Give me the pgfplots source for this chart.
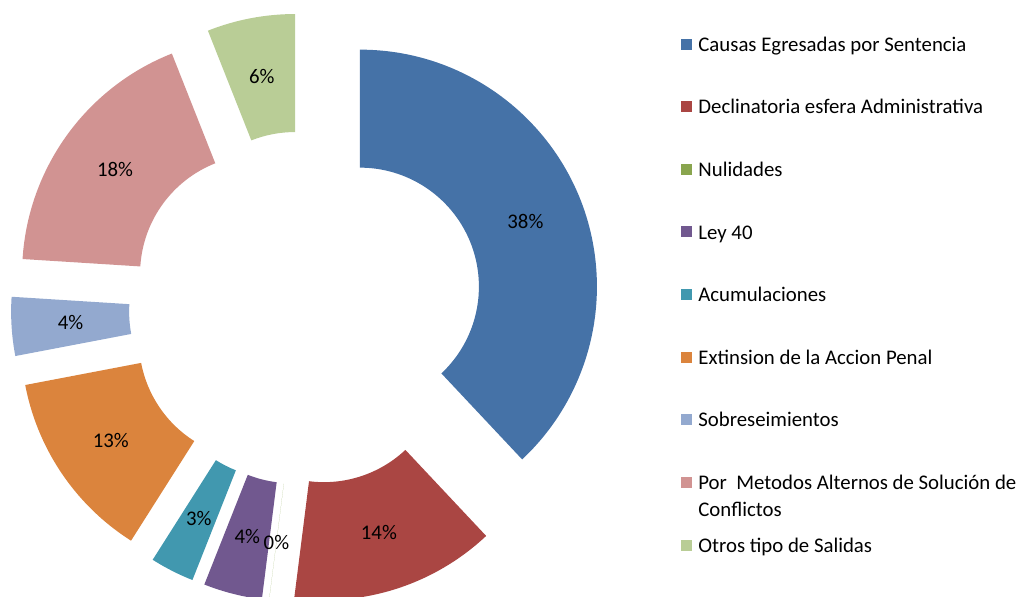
\documentclass[border=0pt]{standalone}
\usepackage{pgfplots}
\pgfplotsset{compat=1.18}
\usepackage{pgfplotstable}
\usepackage{fontspec}
\setmainfont{Carlito}
\definecolor{cA}{HTML}{4572A7}
\definecolor{cB}{HTML}{AA4643}
\definecolor{cC}{HTML}{89A54E}
\definecolor{cD}{HTML}{71588F}
\definecolor{cE}{HTML}{4198AF}
\definecolor{cF}{HTML}{DB843D}
\definecolor{cG}{HTML}{93A9CF}
\definecolor{cH}{HTML}{D19392}
\definecolor{cI}{HTML}{B9CD96}
\newcommand\lbl{\fontsize{10.4}{13}\selectfont}

\pgfplotstableread[col sep=comma]{
value,color
38,cA
14,cB
0,cC
4,cD
3,cE
13,cF
4,cG
18,cH
6,cI
}\datatable

% geometry in pixel units (y up)
\def\cx{306}
\def\cy{288}
\def\Rout{237}
\def\Rin{119}
\def\Dex{58}

\begin{document}
\begin{tikzpicture}
\gdef\wedges{}
\gdef\labels{}
\gdef\cum{0}
\pgfplotsforeachungrouped \idx in {0,...,8}{%
 \pgfplotstablegetelem{\idx}{value}\of\datatable \let\segval\pgfplotsretval
 \pgfplotstablegetelem{\idx}{color}\of\datatable \let\segcol\pgfplotsretval
 \pgfmathsetmacro\aone{90-3.6*\cum}%
 \pgfmathsetmacro\atwo{90-3.6*(\cum+\segval)}%
 \pgfmathsetmacro\am{(\aone+\atwo)/2}%
 \pgfmathsetmacro\ox{\cx+\Dex*cos(\am)}%
 \pgfmathsetmacro\oy{\cy+\Dex*sin(\am)}%
 \pgfmathsetmacro\pax{\ox+\Rout*cos(\aone)}%
 \pgfmathsetmacro\pay{\oy+\Rout*sin(\aone)}%
 \pgfmathsetmacro\pbx{\ox+\Rin*cos(\atwo)}%
 \pgfmathsetmacro\pby{\oy+\Rin*sin(\atwo)}%
 \pgfmathsetmacro\lx{\ox+0.5*(\Rout+\Rin)*cos(\am)}%
 \pgfmathsetmacro\ly{\oy+0.5*(\Rout+\Rin)*sin(\am)}%
 \pgfmathsetmacro\Ro{0.5*\Rout}%
 \pgfmathsetmacro\Ri{0.5*\Rin}%
 \xdef\wedges{\unexpanded\expandafter{\wedges}\noexpand\fill[\segcol] (axis cs:\pax,\pay) arc[start angle=\aone,end angle=\atwo,radius=\Ro pt] -- (axis cs:\pbx,\pby) arc[start angle=\atwo,end angle=\aone,radius=\Ri pt] -- cycle;}%
 \xdef\labels{\unexpanded\expandafter{\labels}\noexpand\node[font=\noexpand\lbl,inner sep=0pt] at (axis cs:\lx,\ly) {\segval\noexpand\%};}%
 \pgfmathsetmacro\newcum{\cum+\segval}%
 \xdef\cum{\newcum}%
}
\begin{axis}[
  hide axis, clip=false,
  x=0.5pt, y=0.5pt,
  xmin=0, xmax=1018, ymin=0, ymax=596,
  scale only axis,
]
\coordinate (SW) at (rel axis cs:0,0);
\coordinate (NE) at (rel axis cs:1,1);
\wedges
\labels
% legend
\fill[cA] (axis cs:681,546) rectangle (axis cs:692,557);
\node[font=\lbl,anchor=base west,inner sep=0pt] at (axis cs:698,544.5) {Causas Egresadas por Sentencia};
\fill[cB] (axis cs:681,483.5) rectangle (axis cs:692,494.5);
\node[font=\lbl,anchor=base west,inner sep=0pt] at (axis cs:698,482) {Declinatoria esfera Administrativa};
\fill[cC] (axis cs:681,421) rectangle (axis cs:692,432);
\node[font=\lbl,anchor=base west,inner sep=0pt] at (axis cs:698,419.5) {Nulidades};
\fill[cD] (axis cs:681,358.5) rectangle (axis cs:692,369.5);
\node[font=\lbl,anchor=base west,inner sep=0pt] at (axis cs:698,357) {Ley 40};
\fill[cE] (axis cs:681,296) rectangle (axis cs:692,307);
\node[font=\lbl,anchor=base west,inner sep=0pt] at (axis cs:698,294.5) {Acumulaciones};
\fill[cF] (axis cs:681,233.5) rectangle (axis cs:692,244.5);
\node[font=\lbl,anchor=base west,inner sep=0pt] at (axis cs:698,232) {Extinsion de la Accion Penal};
\fill[cG] (axis cs:681,171) rectangle (axis cs:692,182);
\node[font=\lbl,anchor=base west,inner sep=0pt] at (axis cs:698,169.5) {Sobreseimientos};
\fill[cH] (axis cs:681,108) rectangle (axis cs:692,119);
\node[font=\lbl,anchor=base west,inner sep=0pt] at (axis cs:698,106.5) {Por\ \ Metodos Alternos de Solución de};
\node[font=\lbl,anchor=base west,inner sep=0pt] at (axis cs:698,79.5) {Conflictos};
\fill[cI] (axis cs:681,45.5) rectangle (axis cs:692,56.5);
\node[font=\lbl,anchor=base west,inner sep=0pt] at (axis cs:698,44) {Otros tipo de Salidas};
\end{axis}
\pgfresetboundingbox
\path (SW) rectangle (NE);
\end{tikzpicture}
\end{document}
